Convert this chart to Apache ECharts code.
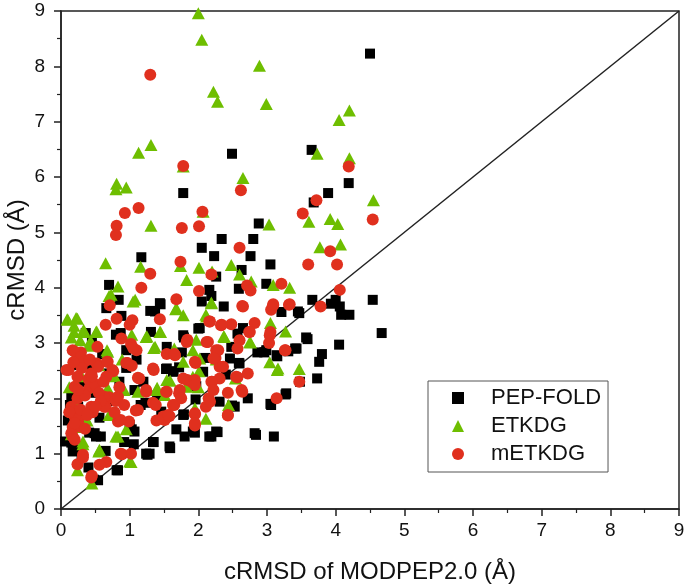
<!DOCTYPE html>
<html>
<head>
<meta charset="utf-8">
<script src="https://cdn.jsdelivr.net/npm/echarts@6/dist/echarts.min.js"></script>
<style>
html,body{margin:0;padding:0;background:#fff;}
#chart{width:685px;height:587px;}
</style>
</head>
<body>
<div id="chart"></div>
<script>
// Tick labels
var xTicks = [0,1,2,3,4,5,6,7,8,9];
var yTicks = [0,1,2,3,4,5,6,7,8,9];
var seriesNames = ['PEP-FOLD','ETKDG','mETKDG'];
var diagonal = [[0,0],[9,9]];

// PEP-FOLD : [cRMSD of MODPEP2.0, cRMSD]
var pepFold = [
[4.50,8.23],[2.49,6.42],[3.65,6.49],[4.19,5.89],[1.78,5.71],[3.89,5.71],[3.68,5.54],[2.88,5.16],[2.34,4.88],[2.80,4.88],
[2.05,4.72],[2.23,4.57],[2.76,4.57],[1.17,4.55],[3.05,4.42],[2.63,4.32],[2.26,4.20],[0.70,4.05],[2.99,4.07],[2.59,3.98],
[2.16,3.96],[2.19,3.85],[0.84,3.78],[3.66,3.78],[4.54,3.78],[4.00,3.78],[3.93,3.71],[4.06,3.66],[4.08,3.51],[4.20,3.51],
[2.05,3.75],[1.45,3.70],[1.30,3.58],[2.37,3.66],[0.66,3.63],[3.47,3.54],[3.21,3.56],[0.88,3.49],[0.36,3.18],[0.80,3.15],
[1.79,3.10],[2.00,3.26],[4.67,3.18],[3.59,3.07],[4.05,2.97],[3.41,2.90],[3.31,2.85],[2.96,2.83],[3.15,2.76],[2.86,2.83],
[3.80,2.80],[3.76,2.66],[1.54,2.93],[1.76,2.83],[0.95,2.87],[2.59,2.64],[1.53,2.53],[1.64,2.49],[3.73,2.36],[3.48,2.30],
[0.85,2.30],[3.27,2.07],[2.72,2.00],[3.05,1.90],[2.49,1.87],[1.96,1.98],[1.23,1.92],[1.79,1.71],[2.84,1.34],[3.10,1.31],
[2.28,1.39],[2.19,1.31],[1.68,1.44],[1.80,1.31],[1.95,1.38],[1.35,1.21],[1.59,1.10],[1.26,0.98],[1.03,1.44],[1.06,1.17],
[0.92,1.21],[0.81,0.70],[0.48,0.53],[0.51,1.31],[0.41,1.38],[0.06,1.22],[0.17,1.04],[0.56,1.65],
[0.87,3.18],[1.07,2.15],[1.31,3.20],[0.15,2.03],[1.16,1.88],[1.37,3.57],[0.20,1.07],[0.49,1.37],[0.58,1.31],[1.00,1.52],
[1.07,1.40],[1.24,1.00],[0.83,0.70],[0.54,0.52],[0.27,1.70],[0.17,1.21],[1.44,3.72],[2.02,3.27],[1.78,3.14],[3.45,3.57],
[3.57,3.10],[3.43,2.90],[2.99,2.87],[3.14,2.78],[2.60,2.63],[1.54,2.54],[1.63,2.48],[2.07,2.48],[2.46,2.72],[3.28,2.09],
[3.06,1.88],[2.31,1.94],[1.78,1.70],[1.46,1.76],[2.53,1.85],[1.92,1.40],[2.26,1.40],[2.16,1.31],[2.82,1.37],[1.58,1.13],
[1.34,1.21],[1.29,1.00],[0.15,1.20],[0.25,1.85],[0.30,2.30],[0.40,2.60],[0.45,3.05],[0.50,2.10],[0.35,1.50],[0.70,2.45],
[0.75,1.95],[0.60,2.80],[0.20,2.60],[0.95,2.55],[1.10,2.70],[0.45,1.75],[0.10,1.60],[0.30,0.95],[0.40,0.75],[0.65,1.05],
[1.20,2.30],[1.40,2.05],[0.13,1.88],[0.37,2.29],[2.48,2.93],[2.40,2.43],[2.57,3.17],[2.65,3.27],[2.10,2.73],[1.97,2.22],
[1.72,2.56]
];

// ETKDG
var etkdg = [
[2.00,8.96],[2.05,8.48],[2.89,8.01],[2.22,7.54],[2.28,7.36],[2.99,7.32],[4.20,7.20],[4.05,7.03],[1.31,6.58],[1.13,6.44],
[3.73,6.42],[4.20,6.34],[1.78,6.19],[2.65,5.98],[0.81,5.88],[0.95,5.81],[0.80,5.78],[4.55,5.58],[3.92,5.24],[2.07,5.37],
[3.03,5.14],[3.61,5.19],[4.03,5.15],[1.31,5.12],[3.77,4.73],[4.07,4.78],[0.65,4.44],[2.48,4.41],[1.74,4.39],[1.16,4.38],
[2.01,4.36],[2.60,4.24],[2.20,4.29],[1.83,4.14],[2.77,4.11],[3.09,4.05],[3.33,4.00],[0.83,4.02],[0.70,3.85],[1.08,3.78],
[2.19,3.73],[1.67,3.61],[1.78,3.50],[2.11,3.51],[3.05,3.36],[0.09,3.43],[0.24,3.44],[0.19,3.31],[0.33,3.24],[0.52,3.21],
[1.45,3.20],[3.27,3.21],[1.03,3.15],[1.25,3.12],[2.37,3.12],[1.97,3.06],[2.76,3.01],[1.35,2.91],[1.65,2.90],[0.67,2.87],
[0.43,3.04],[3.04,2.65],[3.15,2.51],[3.47,2.53],[0.89,2.70],[1.78,2.66],[2.26,2.70],[1.59,2.32],[2.01,2.49],[2.54,2.36],
[1.40,2.19],[1.12,2.12],[0.92,2.15],[1.83,2.22],[2.44,1.88],[2.11,1.63],[0.83,1.31],[0.95,1.44],[0.32,1.17],[0.55,1.04],
[1.02,0.85],[0.24,0.70],[0.45,0.46],[0.18,1.76],[0.29,1.48],[0.61,2.02],
[0.10,3.42],[0.22,3.45],[0.34,3.20],[0.19,3.20],[0.51,3.20],[0.68,2.84],[0.90,2.15],[0.73,3.87],[1.05,3.75],[1.24,3.11],
[0.68,2.18],[1.68,3.63],[2.12,3.48],[2.19,3.72],[1.44,3.20],[2.38,3.11],[1.37,2.93],[1.66,2.84],[1.92,2.87],[2.02,2.72],
[2.75,3.02],[3.16,2.54],[1.54,2.33],[1.92,2.39],[1.39,2.15],[1.83,2.21],[2.00,2.20],[1.95,1.82],[1.51,2.06],
[0.15,3.10],[0.28,3.05],[0.40,2.95],[0.30,2.40],[0.12,2.20],[0.45,2.20],[0.55,2.60],[0.20,1.90],[0.38,1.60],[0.70,1.70],
[0.78,2.40],[0.15,1.35],[0.32,1.22],[0.56,1.07],[0.80,1.31],[1.00,0.86]
];

// mETKDG
var metkdg = [
[1.30,7.85],[1.78,6.20],[4.19,6.19],[2.62,5.76],[3.72,5.58],[1.13,5.44],[0.93,5.35],[2.06,5.37],[3.52,5.34],[4.54,5.23],
[0.81,5.12],[0.80,4.95],[1.76,5.08],[2.01,5.11],[2.60,4.72],[3.92,4.66],[1.74,4.47],[3.60,4.42],[4.02,4.42],[1.30,4.25],
[2.19,4.24],[1.17,4.00],[2.01,3.94],[3.21,4.07],[2.71,4.04],[2.76,3.95],[4.06,3.96],[1.68,3.79],[0.71,3.68],[3.78,3.66],
[3.09,3.68],[3.32,3.69],[2.65,3.66],[0.81,3.44],[1.04,3.41],[1.44,3.43],[2.16,3.39],[2.33,3.32],[2.48,3.34],[2.82,3.36],
[0.65,3.33],[3.05,3.20],[2.74,3.20],[0.88,3.08],[0.53,2.93],[1.84,3.06],[2.14,3.02],[2.60,3.05],[3.03,3.00],[1.02,2.98],
[1.10,2.87],[0.17,2.87],[0.29,2.83],[3.27,2.87],[2.26,2.87],[2.57,2.90],[1.54,2.80],[1.65,2.80],[0.95,2.64],[1.03,2.59],
[1.96,2.64],[2.25,2.73],[2.31,2.57],[0.52,2.63],[0.67,2.66],[0.08,2.51],[0.76,2.49],[1.35,2.51],[2.72,2.45],[2.57,2.38],
[3.47,2.30],[2.20,2.30],[1.14,2.36],[1.84,2.33],[2.43,2.10],[2.64,2.12],[3.14,2.00],[1.24,2.12],[1.53,2.12],[1.72,2.09],
[1.91,2.29],[2.15,2.00],[2.43,1.69],[2.11,1.85],[1.65,1.88],[1.34,1.92],[0.65,1.85],[0.46,1.75],[0.70,2.02],[0.80,1.95],
[0.92,1.88],[1.09,1.78],[1.58,1.68],[1.95,1.71],[1.39,1.60],[1.51,1.61],[0.83,1.58],[0.99,1.58],[1.95,1.51],[0.89,0.99],
[1.02,1.00],[0.66,0.85],[0.24,0.81],[0.32,0.93],[0.45,0.60],[0.17,1.31],[0.17,1.48],[0.25,1.61],
[1.00,3.33],[0.20,2.84],[0.29,2.75],[1.05,2.91],[0.11,2.51],[0.34,2.66],[0.54,2.57],[0.68,2.66],[0.75,2.51],[0.97,2.64],
[0.44,2.45],[0.24,2.39],[0.41,2.18],[0.20,2.21],[0.66,2.39],[1.12,2.37],[1.24,2.15],[0.24,2.00],[0.63,2.03],[0.83,2.03],
[0.15,1.85],[0.44,1.85],[0.20,1.67],[0.27,1.49],[0.15,1.37],[0.63,1.85],[0.87,1.61],[1.12,1.79],[0.87,1.00],[0.32,0.98],
[0.56,0.80],[0.44,0.57],
[2.17,3.39],[2.34,3.33],[2.64,3.67],[2.75,3.20],[3.06,3.60],[3.09,3.70],[3.33,3.70],[1.83,3.02],[2.12,3.02],[3.04,3.14],
[3.26,2.87],[1.66,2.78],[2.29,2.87],[1.95,2.66],[2.22,2.72],[2.36,2.57],[1.34,2.54],[1.78,2.36],[1.95,2.33],[2.31,2.36],
[2.19,2.30],[1.95,2.24],[2.55,2.39],[2.63,2.15],[1.54,2.12],[1.73,2.15],[2.22,2.15],[1.75,2.00],[1.38,1.88],[1.63,1.88],
[2.17,1.94],[1.49,1.67],[1.95,1.73],[1.95,1.55],[2.43,1.70],[1.56,1.70],
[0.30,2.55],[0.40,2.35],[0.50,2.25],[0.35,2.05],[0.55,2.10],[0.28,1.80],[0.20,1.55],[0.38,1.70],[0.12,1.75],[0.45,2.40],
[0.25,2.15],[0.62,2.30],[0.58,1.95],[0.35,1.45],[0.20,1.25],[0.50,1.85],[0.42,2.70],[0.18,2.65],[0.85,2.20],[0.78,1.75]
];

var FONT = 'Liberation Sans, Arial, sans-serif';
var axisCommon = {
  type: 'value', min: 0, max: 9, interval: 1,
  axisLine: { show: true, onZero: false, lineStyle: { color: '#222', width: 1.5 } },
  axisTick: { show: true, inside: false, length: 7, lineStyle: { color: '#222', width: 1.5 } },
  minorTick: { show: true, splitNumber: 2, length: 4, lineStyle: { color: '#222', width: 1.2 } },
  splitLine: { show: false },
  nameLocation: 'middle',
  nameMoveOverlap: false,
  nameTextStyle: { fontFamily: FONT, fontSize: 24, color: '#111' }
};

var chart = echarts.init(document.getElementById('chart'), null, { renderer: 'canvas' });
chart.setOption({
  backgroundColor: '#fff',
  animation: false,
  grid: { left: 61, right: 6, top: 11, bottom: 78, containLabel: false, outerBoundsMode: 'none',
    show: true, borderColor: '#222', borderWidth: 1.5, backgroundColor: 'transparent' },
  legend: {
    orient: 'vertical', left: 428, top: 381,
    data: [
      { name: seriesNames[0], icon: 'rect' },
      { name: seriesNames[1], icon: 'triangle' },
      { name: seriesNames[2], icon: 'circle' }
    ],
    itemWidth: 12, itemHeight: 12, itemGap: 6,
    padding: [6, 7, 7, 24],
    borderColor: '#555', borderWidth: 1, backgroundColor: '#fff',
    textStyle: { fontFamily: FONT, fontSize: 22, color: '#111', padding: [0, 0, 0, 22] }
  },
  xAxis: Object.assign({}, axisCommon, {
    name: 'cRMSD of MODPEP2.0 (Å)', nameGap: 51,
    axisLabel: { fontFamily: FONT, fontSize: 19, color: '#111', margin: 12,
      formatter: function (v) { return xTicks.indexOf(v) >= 0 ? String(v) : ''; } }
  }),
  yAxis: Object.assign({}, axisCommon, {
    name: 'cRMSD (Å)', nameGap: 32,
    axisLabel: { fontFamily: FONT, fontSize: 19, color: '#111', margin: 16,
      formatter: function (v) { return yTicks.indexOf(v) >= 0 ? String(v) : ''; } }
  }),
  series: [
    { type: 'line', data: diagonal, symbol: 'none', silent: true,
      lineStyle: { color: '#222', width: 1.5 }, z: 1 },
    { name: seriesNames[0], type: 'scatter', data: pepFold, symbol: 'rect', symbolSize: 10,
      itemStyle: { color: '#000000', opacity: 1 }, z: 2 },
    { name: seriesNames[1], type: 'scatter', data: etkdg, symbol: 'triangle', symbolSize: [13, 12],
      itemStyle: { color: '#6EBE00', opacity: 1 }, z: 3 },
    { name: seriesNames[2], type: 'scatter', data: metkdg, symbol: 'circle', symbolSize: 12,
      itemStyle: { color: '#E0301E', opacity: 1 }, z: 4 }
  ]
});
</script>
</body>
</html>
